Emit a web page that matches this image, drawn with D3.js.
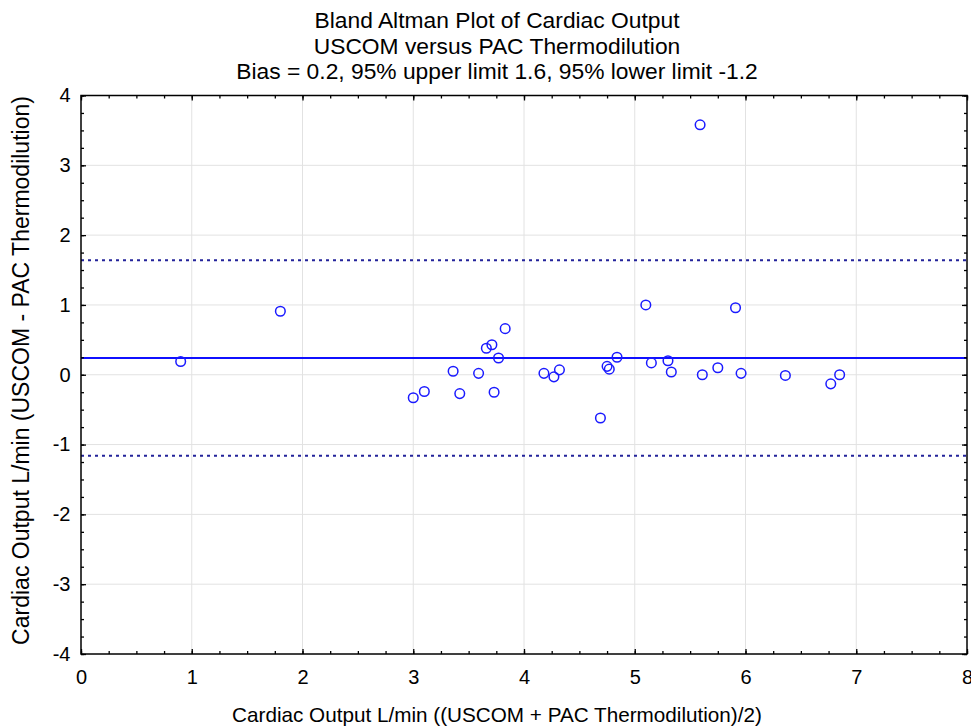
<!DOCTYPE html>
<html>
<head>
<meta charset="utf-8">
<script src="https://cdn.jsdelivr.net/npm/d3@7"></script>
<style>
  html, body { margin: 0; padding: 0; background: #fff; }
  svg { display: block; }
</style>
</head>
<body>
<svg id="chart"></svg>
<script>
// Data
const meanCO = [0.90, 1.80, 3.00, 3.10, 3.36, 3.42, 3.59, 3.66, 3.71, 3.73, 3.77, 3.83,
  4.18, 4.27, 4.32, 4.69, 4.75, 4.77, 4.84, 5.10, 5.15, 5.30, 5.33, 5.59, 5.61, 5.75,
  5.91, 5.96, 6.36, 6.77, 6.85];
const diffCO = [0.19, 0.91, -0.33, -0.24, 0.05, -0.27, 0.02, 0.38, 0.43, -0.25, 0.24, 0.66,
  0.02, -0.03, 0.07, -0.62, 0.12, 0.08, 0.25, 1.00, 0.17, 0.20, 0.04, 3.58, 0.00, 0.10,
  0.96, 0.02, -0.01, -0.13, 0.00];
const bias = 0.24;
const upperLimit = 1.64;
const lowerLimit = -1.16;
const xTicks = [0, 1, 2, 3, 4, 5, 6, 7, 8];
const yTicks = [-4, -3, -2, -1, 0, 1, 2, 3, 4];
const titleLines = [
  "Bland Altman Plot of Cardiac Output",
  "USCOM versus PAC Thermodilution",
  "Bias = 0.2, 95% upper limit 1.6, 95% lower limit -1.2"
];

const W = 971, H = 727;
const m = { top: 95.5, right: 4, bottom: 73, left: 81 };
const iW = W - m.left - m.right;
const iH = H - m.top - m.bottom;
const FONT = "Arial, 'Liberation Sans', sans-serif";

const svg = d3.select("#chart").attr("width", W).attr("height", H);

const x = d3.scaleLinear().domain([0, 8]).range([0, iW]);
const y = d3.scaleLinear().domain([-4, 4]).range([iH, 0]);

// Titles
const cx = 497;
titleLines.forEach((t, i) => {
  svg.append("text")
    .attr("x", cx).attr("y", 28 + i * 25.5)
    .attr("text-anchor", "middle")
    .style("font-family", FONT).style("font-size", "22.8px")
    .style("fill", "#000")
    .text(t);
});

const g = svg.append("g").attr("transform", `translate(${m.left},${m.top})`);

// Grid
g.append("g").selectAll("line")
  .data(xTicks.slice(1, -1)).join("line")
  .attr("x1", d => x(d)).attr("x2", d => x(d))
  .attr("y1", 0).attr("y2", iH)
  .attr("stroke", "#e2e2e2").attr("stroke-width", 1);
g.append("g").selectAll("line")
  .data(yTicks.slice(1, -1)).join("line")
  .attr("x1", 0).attr("x2", iW)
  .attr("y1", d => y(d)).attr("y2", d => y(d))
  .attr("stroke", "#e2e2e2").attr("stroke-width", 1);

// Limit lines
[upperLimit, lowerLimit].forEach(v => {
  g.append("line")
    .attr("x1", 0).attr("x2", iW)
    .attr("y1", y(v)).attr("y2", y(v))
    .attr("stroke", "#23239a").attr("stroke-width", 1.8)
    .attr("stroke-dasharray", "3,4");
});
g.append("line")
  .attr("x1", 0).attr("x2", iW)
  .attr("y1", y(bias)).attr("y2", y(bias))
  .attr("stroke", "#1010ff").attr("stroke-width", 2);

// Points
g.append("g").selectAll("circle")
  .data(meanCO.map((v, i) => [v, diffCO[i]])).join("circle")
  .attr("cx", d => x(d[0])).attr("cy", d => y(d[1]))
  .attr("r", 4.8)
  .attr("fill", "none")
  .attr("stroke", "#1a1aff").attr("stroke-width", 1.5);

// Axes with inward ticks on all sides
const minorX = d3.range(0, 8.001, 0.25);
const minorY = d3.range(-4, 4.001, 0.25);
const fmt = d => String(d);
function styleAxis(ax) {
  ax.select(".domain").remove();
  ax.selectAll(".tick line").attr("stroke", "#000").attr("stroke-width", 1.3);
  ax.selectAll(".tick text").style("font-family", FONT).style("font-size", "20px").style("fill", "#000");
}
// bottom
g.append("g").attr("transform", `translate(0,${iH})`)
  .call(d3.axisBottom(x).tickValues(minorX).tickSize(-3).tickFormat(""))
  .call(styleAxis);
g.append("g").attr("transform", `translate(0,${iH})`)
  .call(d3.axisBottom(x).tickValues(xTicks).tickSize(-5).tickPadding(16).tickFormat(fmt))
  .call(styleAxis);
// top
g.append("g")
  .call(d3.axisTop(x).tickValues(minorX).tickSize(-3).tickFormat(""))
  .call(styleAxis);
g.append("g")
  .call(d3.axisTop(x).tickValues(xTicks).tickSize(-5).tickFormat(""))
  .call(styleAxis);
// left
g.append("g")
  .call(d3.axisLeft(y).tickValues(minorY).tickSize(-3).tickFormat(""))
  .call(styleAxis);
g.append("g")
  .call(d3.axisLeft(y).tickValues(yTicks).tickSize(-5).tickPadding(10.5).tickFormat(fmt))
  .call(styleAxis);
// right
g.append("g").attr("transform", `translate(${iW},0)`)
  .call(d3.axisRight(y).tickValues(minorY).tickSize(-3).tickFormat(""))
  .call(styleAxis);
g.append("g").attr("transform", `translate(${iW},0)`)
  .call(d3.axisRight(y).tickValues(yTicks).tickSize(-5).tickFormat(""))
  .call(styleAxis);

// Frame
g.append("rect")
  .attr("x", 0).attr("y", 0).attr("width", iW).attr("height", iH)
  .attr("fill", "none").attr("stroke", "#000").attr("stroke-width", 1.5);

// Axis titles
svg.append("text")
  .attr("x", cx).attr("y", 722)
  .attr("text-anchor", "middle")
  .style("font-family", FONT).style("font-size", "20.7px")
  .text("Cardiac Output L/min ((USCOM + PAC Thermodilution)/2)");

svg.append("text")
  .attr("transform", "rotate(-90)")
  .attr("x", -370.5).attr("y", 29)
  .attr("text-anchor", "middle")
  .style("font-family", FONT).style("font-size", "23px")
  .text("Cardiac Output L/min (USCOM - PAC Thermodilution)");
</script>
</body>
</html>
